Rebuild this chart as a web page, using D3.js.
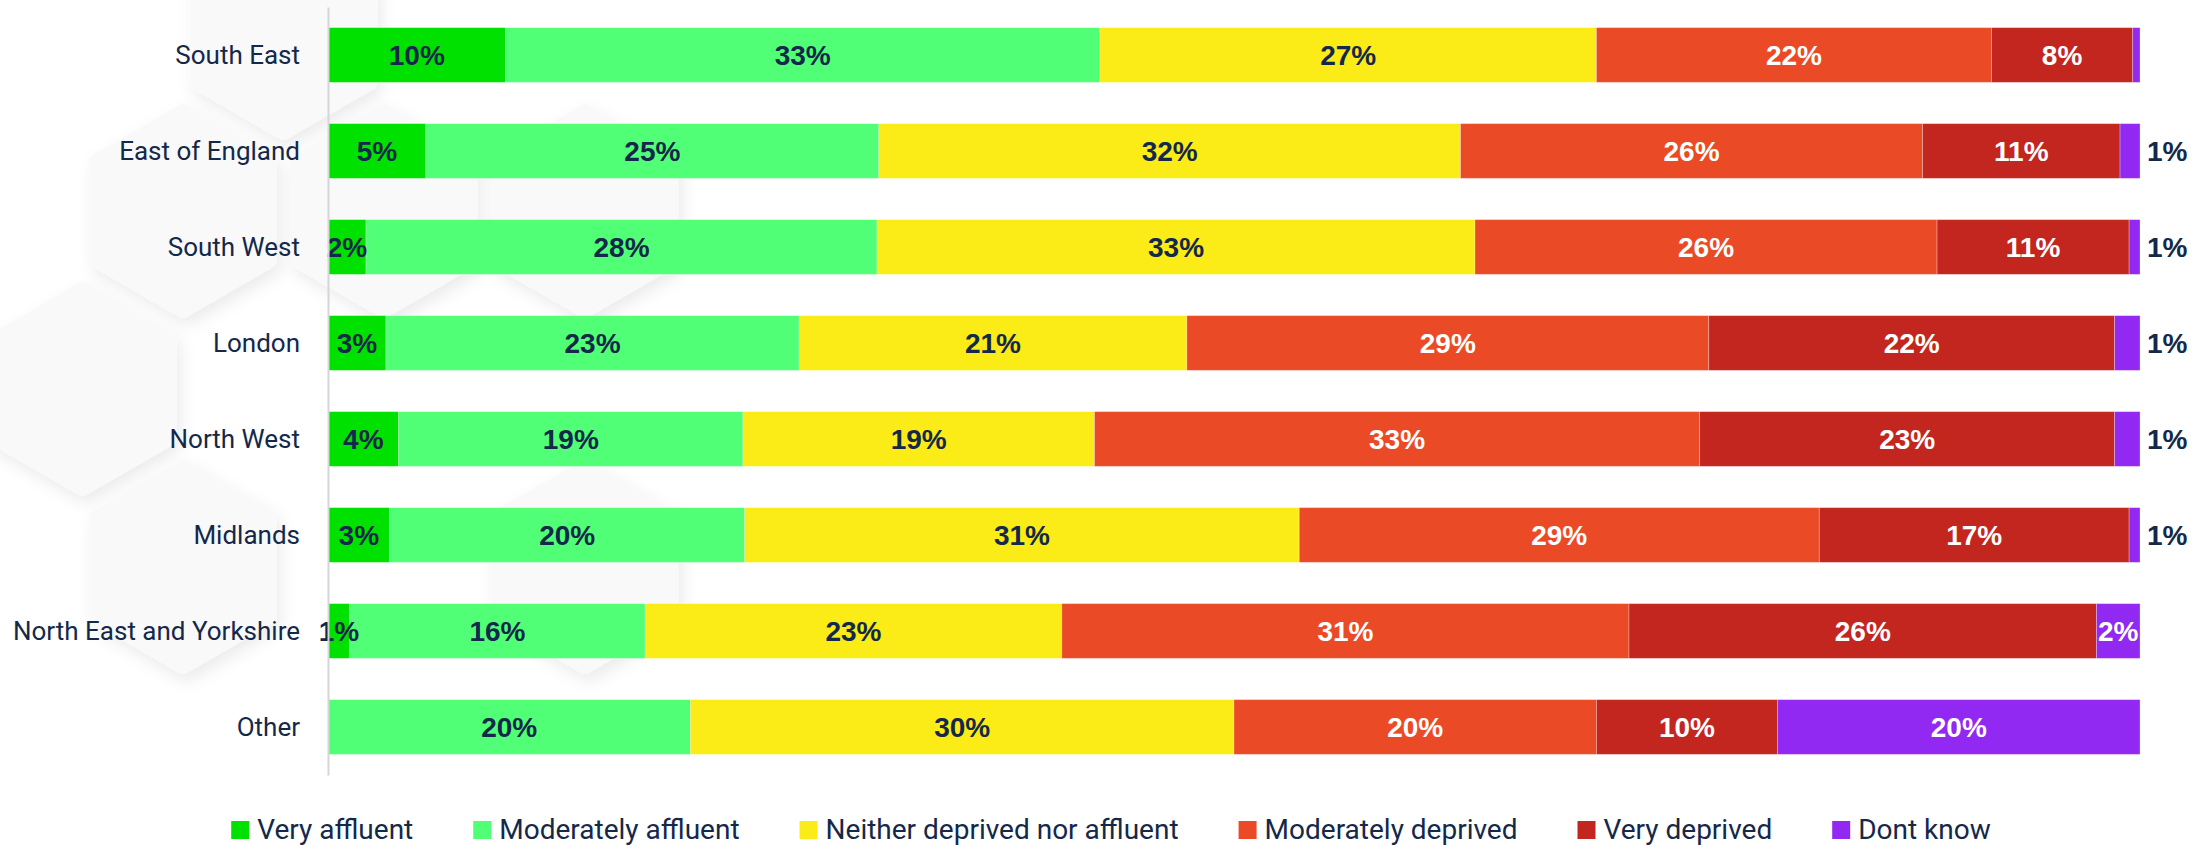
<!DOCTYPE html>
<html>
<head>
<meta charset="utf-8">
<script src="https://cdn.jsdelivr.net/npm/d3@7"></script>
<style>
  html, body { margin: 0; padding: 0; background: #fff; }
  svg { display: block; }
</style>
</head>
<body>
<div id="chart"></div>
<script>
const regions = ["South East", "East of England", "South West", "London", "North West", "Midlands", "North East and Yorkshire", "Other"];
const categories = ["Very affluent", "Moderately affluent", "Neither deprived nor affluent", "Moderately deprived", "Very deprived", "Dont know"];
const colors = ["#00e100", "#50ff76", "#fbeb16", "#eb4a27", "#c3261f", "#9229f2"];

// percentages per region, same order as regions
const veryAffluent       = [9.8, 5.4, 2.1, 3.2, 3.9, 3.4, 1.2, 0];
const moderatelyAffluent = [32.8, 25.0, 28.2, 22.8, 19.0, 19.6, 16.3, 20];
const neither            = [27.4, 32.1, 33.0, 21.4, 19.4, 30.6, 23.0, 30];
const moderatelyDeprived = [21.8, 25.5, 25.5, 28.8, 33.4, 28.7, 31.3, 20];
const veryDeprived       = [7.8, 10.9, 10.6, 22.4, 22.9, 17.1, 25.8, 10];
const dontKnow           = [0.4, 1.1, 0.6, 1.4, 1.4, 0.6, 2.4, 20];

const series = [veryAffluent, moderatelyAffluent, neither, moderatelyDeprived, veryDeprived, dontKnow];

// background honeycomb cells (col, row) - decoration only
const hexCells = [[2.5, 0], [2, 1], [3, 1], [4, 1], [1.5, 2], [2, 3], [4, 3]];

const W = 2208, H = 845;
const navy = "#14284a";

const svg = d3.select("#chart").append("svg").attr("width", W).attr("height", H);

const defs = svg.append("defs");
const shadow = defs.append("filter").attr("id", "hexShadow")
  .attr("x", "-30%").attr("y", "-30%").attr("width", "160%").attr("height", "160%");
shadow.append("feDropShadow").attr("dx", 4).attr("dy", 7).attr("stdDeviation", 8)
  .attr("flood-color", "#000").attr("flood-opacity", 0.08);

// honeycomb
const hexX = d3.scaleLinear().domain([0, 1]).range([-219, -18]);
const hexY = d3.scaleLinear().domain([0, 1]).range([33, 211]);
const hexR = 100;
function hexPath(cx, cy, r) {
  const pts = d3.range(6).map(i => {
    const a = Math.PI / 180 * (60 * i - 90);
    return [cx + r * Math.cos(a), cy + r * Math.sin(a)];
  });
  return d3.line().curve(d3.curveLinearClosed)(pts);
}
svg.append("g").selectAll("path")
  .data(hexCells)
  .join("path")
  .attr("d", d => hexPath(hexX(d[0]), hexY(d[1]), hexR))
  .attr("fill", "#f9f9f9")
  .attr("stroke", "#f9f9f9")
  .attr("stroke-linejoin", "round")
  .attr("stroke-width", 14)
  .attr("filter", "url(#hexShadow)");

const x = d3.scaleLinear().domain([0, 100]).range([328, 2140]);
const y = d3.scaleBand().domain(regions).range([7, 775]).paddingInner(0.43).paddingOuter(0.215);

const stacked = regions.map((r, i) => {
  let acc = 0;
  return series.map((s, k) => {
    const seg = { region: r, k, value: s[i], x0: acc, x1: acc + s[i] };
    acc += s[i];
    return seg;
  });
});

const rows = svg.append("g").selectAll("g")
  .data(stacked)
  .join("g");

rows.selectAll("rect")
  .data(d => d.filter(s => s.value > 0))
  .join("rect")
  .attr("x", d => x(d.x0))
  .attr("y", d => y(d.region))
  .attr("width", d => x(d.x1) - x(d.x0))
  .attr("height", y.bandwidth())
  .attr("fill", d => colors[d.k])
  .attr("stroke", "#fff")
  .attr("stroke-opacity", 0.35)
  .attr("stroke-width", 0.8);

// value labels
const outside = d => d.k === 5 && d.value < 2;
rows.selectAll("text")
  .data(d => d.filter(s => Math.round(s.value) >= 1))
  .join("text")
  .attr("x", d => outside(d) ? x(d.x1) + 7 : (x(d.x0) + x(d.x1)) / 2)
  .attr("y", d => y(d.region) + y.bandwidth() / 2)
  .attr("dy", "0.36em")
  .attr("text-anchor", d => outside(d) ? "start" : "middle")
  .attr("font-family", "'Liberation Sans', Arial, sans-serif")
  .attr("font-weight", "bold")
  .attr("font-size", "28px")
  .attr("fill", d => (d.k < 3 || outside(d)) ? navy : "#ffffff")
  .text(d => Math.round(d.value) + "%");

// category axis
const yAxis = svg.append("g")
  .attr("transform", `translate(${x(0)},0)`)
  .call(d3.axisLeft(y).tickSize(0).tickSizeOuter(0).tickPadding(28));
yAxis.select(".domain").attr("stroke", "#d6d6d6").attr("stroke-width", 2);
yAxis.selectAll("text")
  .attr("font-family", "Roboto, 'Noto Sans', sans-serif")
  .attr("font-size", "26px")
  .attr("fill", navy)
  .attr("dy", "0.36em");

// legend
const legend = svg.append("g");
const items = legend.selectAll("g").data(categories).join("g");
items.append("rect")
  .attr("width", 18).attr("height", 18)
  .attr("y", 821)
  .attr("fill", (d, i) => colors[i]);
items.append("text")
  .attr("x", 26).attr("y", 839)
  .attr("font-family", "Roboto, 'Noto Sans', sans-serif")
  .attr("font-size", "28px")
  .attr("fill", navy)
  .text(d => d);
const gap = 60;
let cursor = 0;
const offsets = [];
items.each(function () {
  const w = 26 + d3.select(this).select("text").node().getComputedTextLength();
  offsets.push(cursor);
  cursor += w + gap;
});
const legendW = cursor - gap;
const legendStart = 1111 - legendW / 2;
items.attr("transform", (d, i) => `translate(${legendStart + offsets[i]},0)`);
</script>
</body>
</html>
